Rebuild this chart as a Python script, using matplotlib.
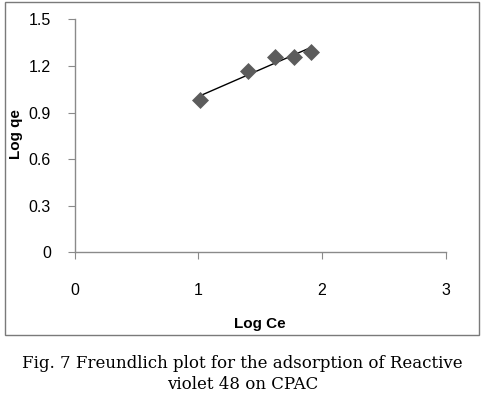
import numpy as np
import matplotlib
matplotlib.use("Agg")
import matplotlib.pyplot as plt
from matplotlib.patches import Rectangle

# Freundlich isotherm data
log_ce = [1.01, 1.40, 1.62, 1.77, 1.91]
log_qe = [0.98, 1.17, 1.255, 1.26, 1.29]

x_ticks = [0, 1, 2, 3]
y_ticks = [0, 0.3, 0.6, 0.9, 1.2, 1.5]
y_tick_labels = ["0", "0.3", "0.6", "0.9", "1.2", "1.5"]

caption = "Fig. 7 Freundlich plot for the adsorption of Reactive\nviolet 48 on CPAC"

W, H = 485, 397
fig = plt.figure(figsize=(W / 100, H / 100), dpi=100)
fig.patch.set_facecolor("white")

# axes placed in pixel coordinates of the reference
left, right, top, bottom = 74.7, 445.7, 19.3, 252.3
ax = fig.add_axes([left / W, 1 - bottom / H, (right - left) / W, (bottom - top) / H])

# linear trend line through the points
slope, icpt = np.polyfit(log_ce, log_qe, 1)
xs = np.array([min(log_ce), max(log_ce)])
ax.plot(xs, slope * xs + icpt, color="black", linewidth=1.0, zorder=2)
ax.scatter(log_ce, log_qe, marker="D", s=75, color="#5c5c5c", zorder=3, linewidths=0)

ax.set_xlim(0, 3)
ax.set_ylim(0, 1.5)
ax.set_xticks(x_ticks)
ax.set_yticks(y_ticks)
ax.set_yticklabels(y_tick_labels)

for side in ("top", "right"):
    ax.spines[side].set_visible(False)
for side in ("left", "bottom"):
    ax.spines[side].set_color("#8a8a8a")
    ax.spines[side].set_linewidth(1.0)

tick_font = "Liberation Sans"
ax.tick_params(axis="both", direction="out", length=5, color="#8a8a8a",
               labelsize=11.5, labelcolor="black")
ax.tick_params(axis="y", pad=12)
ax.tick_params(axis="x", pad=17)
for lab in ax.get_xticklabels() + ax.get_yticklabels():
    lab.set_fontfamily(tick_font)

ax.set_xlabel("Log Ce", fontsize=11, fontweight="bold", family="Liberation Sans", labelpad=14)
ax.set_ylabel("Log qe", fontsize=11, fontweight="bold", family="Liberation Sans")
ax.yaxis.set_label_coords((23 - left) / (right - left), (252.3 - 134) / (252.3 - 19.3))

# outer chart frame
frame = Rectangle((5 / W, 1 - 335 / H), 474 / W, 333 / H, transform=fig.transFigure,
                  fill=False, edgecolor="#7a7a7a", linewidth=1.0)
fig.patches.append(frame)

fig.text(0.5, 1 - 374 / H, caption, ha="center", va="center", fontsize=12,
         family="DejaVu Serif", linespacing=1.35)

fig.savefig("out.png", dpi=100)
